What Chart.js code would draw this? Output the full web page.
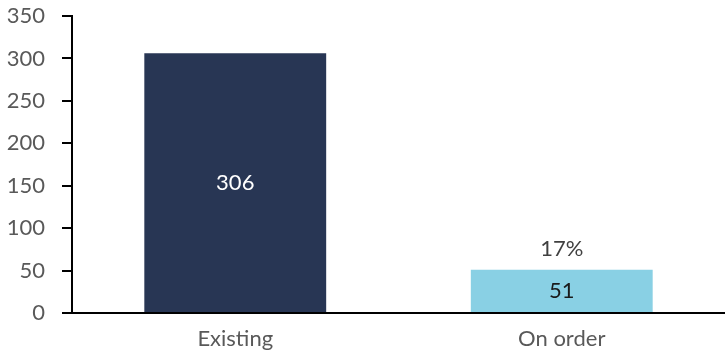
<!DOCTYPE html>
<html>
<head>
<meta charset="utf-8">
<script src="https://cdn.jsdelivr.net/npm/chart.js@4"></script>
<style>
  html, body { margin: 0; padding: 0; background: #fff; }
  #wrap { width: 725px; height: 356px; }
</style>
</head>
<body>
<div id="wrap"><canvas id="chart"></canvas></div>
<script>
const categories = ['Existing', 'On order'];
const fleetValues = [306, 51];
const shareLabels = ['', '17%'];
const yTicks = [0, 50, 100, 150, 200, 250, 300, 350];

const barColors = ['#283654', '#89d0e4'];
const valueColors = ['#ffffff', '#1a1a1a'];
const FONT = 'Lato, "Open Sans", sans-serif';

// draws the value inside each bar and the share above it
const barLabels = {
    id: 'barLabels',
    afterDatasetsDraw(chart) {
        const ctx = chart.ctx;
        const meta = chart.getDatasetMeta(0);
        ctx.save();
        ctx.font = '22px ' + FONT;
        ctx.textAlign = 'center';
        ctx.textBaseline = 'middle';
        meta.data.forEach((bar, i) => {
            const mid = (bar.y + bar.base) / 2;
            ctx.fillStyle = valueColors[i];
            ctx.fillText(String(fleetValues[i]), bar.x, mid);
            if (shareLabels[i]) {
                ctx.fillStyle = '#404040';
                ctx.fillText(shareLabels[i], bar.x, bar.y - 21);
            }
        });
        ctx.restore();
    }
};

// outside tick marks on the y axis
const yTickMarks = {
    id: 'yTickMarks',
    afterDraw(chart) {
        const ctx = chart.ctx;
        const y = chart.scales.y;
        const x0 = chart.chartArea.left;
        ctx.save();
        ctx.fillStyle = '#000';
        yTicks.forEach(v => {
            const py = Math.round(y.getPixelForValue(v));
            ctx.fillRect(x0 - 10, py - 1, 10, 2);
        });
        ctx.restore();
    }
};

new Chart(document.getElementById('chart'), {
    type: 'bar',
    data: {
        labels: categories,
        datasets: [{
            data: fleetValues,
            backgroundColor: barColors,
            barPercentage: 0.557,
            categoryPercentage: 1
        }]
    },
    options: {
        responsive: true,
        maintainAspectRatio: false,
        animation: false,
        layout: { padding: { top: 16, left: 0, right: 0, bottom: 0 } },
        plugins: {
            legend: { display: false },
            tooltip: { enabled: false }
        },
        scales: {
            x: {
                grid: { display: false, drawTicks: false },
                border: { color: '#000', width: 2 },
                ticks: { color: '#595959', font: { family: FONT, size: 22 }, padding: 13 },
                afterFit(scale) { scale.height = 43; scale.paddingLeft = 0; scale.paddingRight = 0; }
            },
            y: {
                min: 0,
                max: 350,
                afterBuildTicks(scale) { scale.ticks = yTicks.map(v => ({ value: v })); },
                grid: { drawOnChartArea: false, color: '#000', lineWidth: 2, tickLength: 9 },
                border: { color: '#000', width: 2 },
                ticks: { color: '#595959', font: { family: FONT, size: 22 }, padding: 18 },
                afterFit(scale) { scale.width = 72; scale.paddingTop = 0; scale.paddingBottom = 0; }
            }
        }
    },
    plugins: [barLabels, yTickMarks]
});
</script>
</body>
</html>
